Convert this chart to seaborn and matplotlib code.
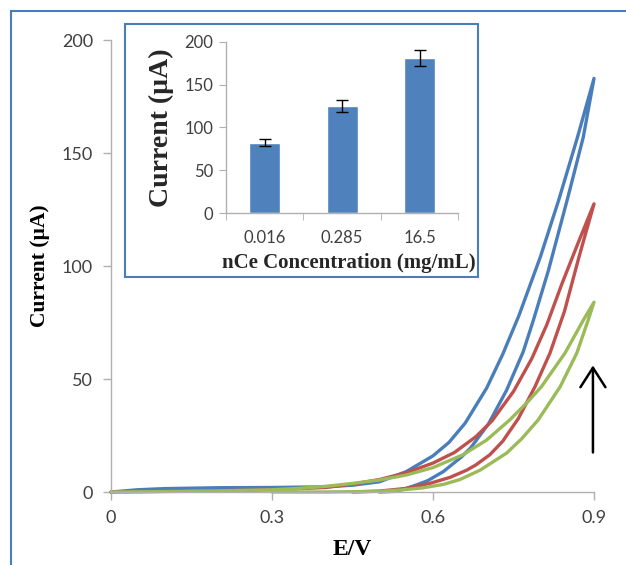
import numpy as np
import pandas as pd
import matplotlib.pyplot as plt
from matplotlib.patches import Rectangle
import seaborn as sns

# cyclic voltammograms: outer (forward) and inner (reverse) branch of each loop
blue_fwd_E = [0.00, 0.05, 0.10, 0.20, 0.30, 0.40, 0.45, 0.50, 0.55, 0.60, 0.63, 0.66, 0.70, 0.73, 0.76, 0.80, 0.834, 0.868, 0.900]
blue_fwd_I = [0.0, 1.0, 1.5, 1.9, 2.0, 2.3, 3.0, 4.5, 9.0, 16.0, 22.0, 30.5, 46.0, 61.0, 78.0, 104.0, 129.0, 156.0, 183.0]
blue_rev_E = [0.900, 0.880, 0.852, 0.815, 0.787, 0.768, 0.737, 0.703, 0.670, 0.653, 0.619, 0.590, 0.570, 0.545, 0.530, 0.500]
blue_rev_I = [183.0, 157.0, 131.0, 98.0, 76.0, 62.0, 45.0, 30.0, 19.5, 15.5, 9.0, 5.0, 3.2, 1.2, 0.3, 0.0]

red_fwd_E = [0.00, 0.10, 0.20, 0.30, 0.40, 0.45, 0.50, 0.55, 0.60, 0.64, 0.68, 0.71, 0.75, 0.784, 0.812, 0.84, 0.87, 0.900]
red_fwd_I = [0.0, 0.3, 0.6, 1.0, 2.0, 3.5, 5.5, 8.5, 12.8, 17.5, 24.5, 31.5, 44.5, 59.0, 74.0, 92.0, 110.0, 127.5]
red_rev_E = [0.900, 0.872, 0.845, 0.818, 0.790, 0.759, 0.730, 0.706, 0.680, 0.663, 0.632, 0.594, 0.550, 0.500, 0.450]
red_rev_I = [127.5, 104.0, 80.0, 61.5, 46.6, 32.5, 22.5, 16.5, 12.0, 9.7, 6.5, 3.8, 1.6, 0.4, 0.0]

green_fwd_E = [0.00, 0.10, 0.20, 0.30, 0.35, 0.40, 0.45, 0.50, 0.55, 0.60, 0.656, 0.70, 0.743, 0.775, 0.802, 0.846, 0.880, 0.900]
green_fwd_I = [0.0, 0.2, 0.5, 1.0, 1.6, 2.5, 3.8, 5.3, 7.5, 10.8, 16.5, 23.0, 31.9, 39.5, 46.6, 61.5, 76.0, 84.0]
green_rev_E = [0.900, 0.889, 0.868, 0.837, 0.796, 0.765, 0.737, 0.688, 0.650, 0.620, 0.580, 0.540, 0.500, 0.400, 0.300]
green_rev_I = [84.0, 76.0, 61.5, 46.6, 31.9, 23.5, 17.2, 9.7, 5.5, 3.4, 1.8, 0.9, 0.3, 0.0, 0.0]

# inset bar chart
conc_labels = ["0.016", "0.285", "16.5"]
current_mean = [82.5, 125.5, 181.0]
current_err = [4.3, 7.0, 9.0]

sns.set_style("white")
plt.rcParams["font.family"] = ["Lato", "DejaVu Sans"]

blue = "#4a7ebb"
red = "#c0504d"
green = "#9bbb59"
axis_grey = "#b0b0b0"
text_grey = "#404040"

parts = []
for name, Ef, If, Er, Ir in [("blue", blue_fwd_E, blue_fwd_I, blue_rev_E, blue_rev_I),
                             ("red", red_fwd_E, red_fwd_I, red_rev_E, red_rev_I),
                             ("green", green_fwd_E, green_fwd_I, green_rev_E, green_rev_I)]:
    parts.append(pd.DataFrame({"E": Ef + Er, "I": If + Ir, "scan": name}))
df = pd.concat(parts, ignore_index=True)

fig = plt.figure(figsize=(6.26, 5.65), dpi=100)

# outer blue frame
fig.patches.append(Rectangle((11 / 626, -0.1), 1.2, 1.1 - 11 / 565, transform=fig.transFigure,
                             fill=False, edgecolor=blue, lw=1.5, zorder=0))

ax = fig.add_axes([0.1773, 0.1292, 0.7716, 0.8])
sns.lineplot(data=df, x="E", y="I", hue="scan", palette={"blue": blue, "red": red, "green": green},
             sort=False, estimator=None, lw=2.4, legend=False, ax=ax)
for ln in ax.lines:
    ln.set_clip_on(False)
    ln.set_solid_joinstyle("round")

ax.set_xlim(0, 0.9)
ax.set_ylim(0, 200)
ax.set_xticks([0, 0.3, 0.6, 0.9])
ax.set_xticklabels(["0", "0.3", "0.6", "0.9"])
ax.set_yticks([0, 50, 100, 150, 200])
sns.despine(ax=ax)
for s in ["left", "bottom"]:
    ax.spines[s].set_color(axis_grey)
    ax.spines[s].set_linewidth(1)
ax.tick_params(bottom=True, left=True, direction="out", length=6, width=1, color=axis_grey,
               labelsize=13, labelcolor=text_grey, pad=7)

ax.set_xlabel("E/V", fontfamily="Liberation Serif", fontweight="bold", fontsize=17, color="black")
ax.xaxis.set_label_coords(0.5, -0.105)
ax.set_ylabel("Current (\u00b5A)", fontfamily="Liberation Serif", fontweight="bold", fontsize=15.5, color="black")
ax.yaxis.set_label_coords(-0.126, 0.5)

ax.annotate("", xy=(0.898, 56), xytext=(0.898, 17.5),
            arrowprops=dict(arrowstyle="->,head_width=0.45,head_length=0.7", color="black", lw=1.8,
                            mutation_scale=20, shrinkA=0, shrinkB=0))

# inset box
fig.patches.append(Rectangle((125 / 626, (565 - 277) / 565), 353 / 626, 253 / 565, transform=fig.transFigure,
                             facecolor="white", edgecolor=blue, lw=1.5, zorder=2))

ax_in = fig.add_axes([0.361, 0.6225, 0.371, 0.3037], zorder=3)
ax_in.patch.set_alpha(0)
sns.barplot(x=conc_labels, y=current_mean, color="#4f81bd", saturation=1, width=0.4, ax=ax_in)
ax_in.errorbar(ax_in.get_xticks(), current_mean, yerr=current_err, fmt="none", ecolor="black",
               elinewidth=1, capsize=4, capthick=1)
ax_in.set_xlim(-0.5, 2.5)
ax_in.set_ylim(0, 200)
ax_in.set_yticks([0, 50, 100, 150, 200])
ax_in.set_xticks([-0.5, 0.5, 1.5, 2.5], minor=True)
sns.despine(ax=ax_in)
for s in ["left", "bottom"]:
    ax_in.spines[s].set_color(axis_grey)
    ax_in.spines[s].set_linewidth(1)
ax_in.tick_params(axis="y", left=True, direction="out", length=5, color=axis_grey,
                  labelsize=12, labelcolor=text_grey, pad=4)
ax_in.tick_params(axis="x", which="major", bottom=False, length=0, labelsize=12, labelcolor=text_grey, pad=12)
ax_in.tick_params(axis="x", which="minor", bottom=True, direction="out", length=5, color=axis_grey)
ax_in.set_xlabel("nCe Concentration (mg/mL)", fontfamily="Liberation Serif", fontweight="bold", fontsize=15)
ax_in.xaxis.set_label_coords(0.53, -0.231)
ax_in.set_ylabel("Current (\u00b5A)", fontfamily="Liberation Serif", fontweight="bold", fontsize=20)
ax_in.yaxis.set_label_coords(-0.224, 0.5)

fig.savefig("out.png", dpi=100)
